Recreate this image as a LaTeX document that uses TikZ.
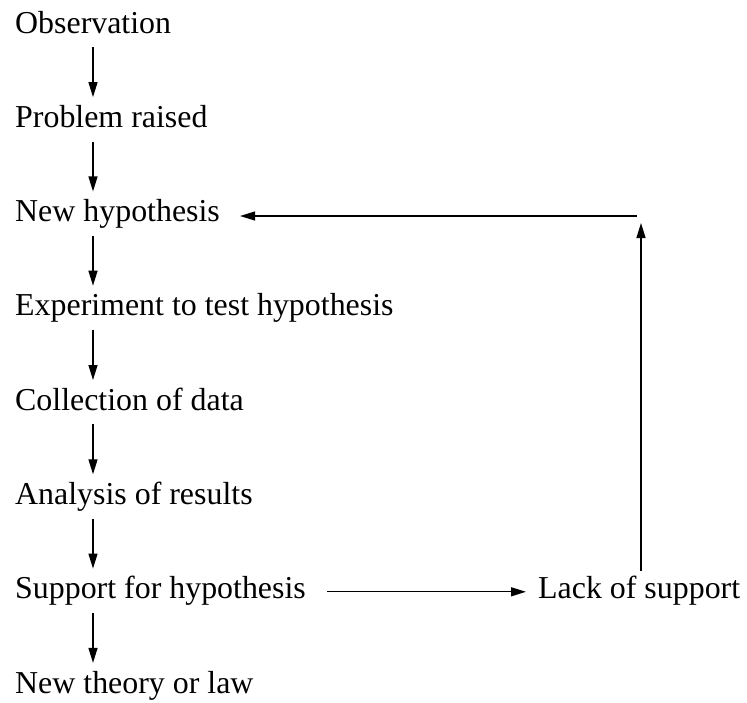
\documentclass[tikz,border=0pt]{standalone}
\usepackage{fontspec}
\setmainfont{Liberation Serif}
\usetikzlibrary{arrows.meta}
\begin{document}
\begin{tikzpicture}[x=1pt,y=-1pt,
  lbl/.style={anchor=base west,inner sep=0pt,text height=21pt,text depth=7pt,
    font=\fontsize{31.9}{36}\selectfont},
  arr/.style={line width=1.3pt,-{Triangle[length=15pt,width=9pt]}}]
\useasboundingbox (0,0) rectangle (747,702);
\node[lbl] (obs) at (15,33) {Observation};
\node[lbl] (prob) at (15,127.3) {Problem raised};
\node[lbl] (hyp) at (15,221.6) {New hypothesis};
\node[lbl] (exp) at (15,315.9) {Experiment to test hypothesis};
\node[lbl] (col) at (15,410.2) {Collection of data};
\node[lbl] (ana) at (15,504.5) {Analysis of results};
\node[lbl] (sup) at (15,598.8) {Support for hypothesis};
\node[lbl] (thy) at (15,693.1) {New theory or law};
\node[lbl] (lack) at (538,598.8) {Lack of support};
\coordinate (vx) at (93,0);
\coordinate (top) at (641,223);
\coordinate (corner) at (637,216);
\foreach \a/\b in {obs/prob,prob/hyp,hyp/exp,exp/col,col/ana,ana/sup,sup/thy}
  \draw[arr,shorten <=7pt,shorten >=9pt] (\a.south -| vx) -- (\b.north -| vx);
\draw[arr,shorten <=21pt,shorten >=12pt] (sup.east) -- (lack.west);
\draw[arr,shorten <=7pt] (lack.north -| top) -- (top);
\draw[arr,shorten >=20pt] (corner) -- (corner -| hyp.east);
\end{tikzpicture}
\end{document}
